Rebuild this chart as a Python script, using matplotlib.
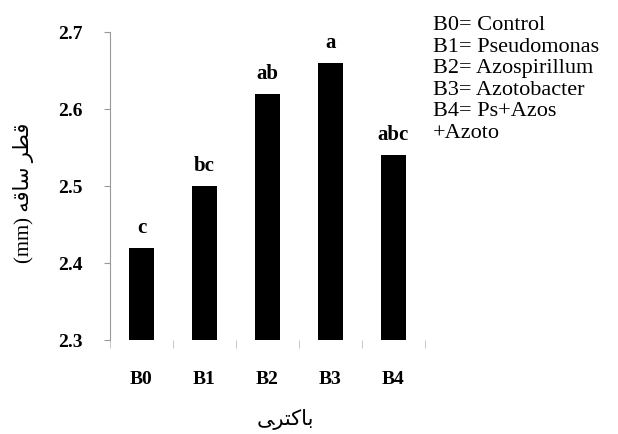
import matplotlib.pyplot as plt
import numpy as np

categories = ['B0', 'B1', 'B2', 'B3', 'B4']
values = [2.42, 2.50, 2.62, 2.66, 2.54]
letters = ['c', 'bc', 'ab', 'a', 'abc']
legend_lines = ['B0= Control', 'B1= Pseudomonas', 'B2= Azospirillum',
                'B3= Azotobacter', 'B4= Ps+Azos', '+Azoto']
yticks = [2.3, 2.4, 2.5, 2.6, 2.7]

# Persian labels written in visual order with presentation forms
xlabel = '\ufbfd\ufeae\ufe98\ufb90\ufe8e\ufe91'
ylabel = '(mm) \ufeea\ufed7\ufe8e\ufeb3 \ufeae\ufec4\ufed7'

plt.rcParams['font.family'] = ['Liberation Serif', 'DejaVu Sans']

W, H = 618, 434
fig = plt.figure(figsize=(W / 100, H / 100), dpi=100)
ax = fig.add_axes([110 / W, 1 - 340 / H, 315 / W, (340 - 32) / H])

x = np.arange(len(categories))
ax.bar(x, values, width=0.41, color='black', bottom=0)
ax.set_xlim(-0.5, len(categories) - 0.5)
ax.set_ylim(2.3, 2.7)

for xi, v, l in zip(x, values, letters):
    ax.text(xi, v + 0.013, l, ha='center', va='bottom',
            fontweight='bold', fontsize=15)

ax.set_yticks(yticks)
ax.set_yticklabels([f'{t:.1f}' for t in yticks], fontweight='bold', fontsize=14)
ax.set_xticks(x)
ax.set_xticklabels(categories, fontweight='bold', fontsize=14)
ax.tick_params(axis='x', length=0, pad=22)
ax.tick_params(axis='y', length=4, color='#999999', pad=16)
ax.set_xticks(np.arange(-0.5, len(categories)), minor=True)
ax.tick_params(axis='x', which='minor', length=6, color='#bbbbbb')

for s in ['top', 'right', 'bottom']:
    ax.spines[s].set_visible(False)
ax.spines['left'].set_color('#999999')

fig.text(285 / W, 1 - 420 / H, xlabel, ha='center', va='center',
         family='DejaVu Sans', fontsize=15)
fig.text(24 / W, 1 - 193 / H, ylabel, ha='center', va='center', rotation=90,
         fontsize=15)

for i, line in enumerate(legend_lines):
    fig.text(433 / W, 1 - (26 + i * 21.4) / H, line, ha='left', va='center',
             fontsize=16)

fig.savefig('out.png', dpi=100)
